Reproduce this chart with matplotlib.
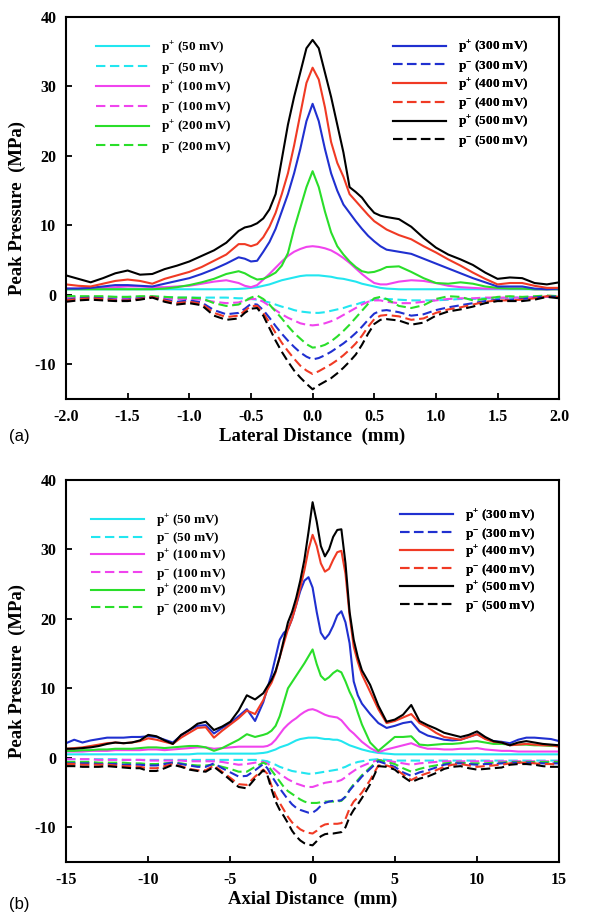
import matplotlib
matplotlib.use('Agg')
import matplotlib.pyplot as plt

plt.rcParams['font.family'] = 'Liberation Serif'
plt.rcParams['font.weight'] = 'bold'
plt.rcParams['axes.labelweight'] = 'bold'
plt.rcParams['axes.unicode_minus'] = False
plt.rcParams['mathtext.fontset'] = 'custom'
plt.rcParams['mathtext.rm'] = 'Liberation Serif:bold'
plt.rcParams['mathtext.it'] = 'Liberation Serif:bold'
plt.rcParams['mathtext.bf'] = 'Liberation Serif:bold'
plt.rcParams['mathtext.default'] = 'rm'

# -------- DATA --------
voltages = ['50', '100', '200', '300', '400', '500']
colors = ['#22e6f0', '#f044ee', '#2ade2a', '#2030d0', '#f03a24', '#000000']

# (a) lateral profile
lat_x = [-2.0, -1.9, -1.8, -1.7, -1.6, -1.5, -1.4, -1.3, -1.2, -1.1, -1.0, -0.9, -0.8, -0.7, -0.6,
         -0.55, -0.5, -0.45, -0.4, -0.35, -0.3, -0.25, -0.2, -0.15, -0.1, -0.05, 0.0,
         0.05, 0.1, 0.15, 0.2, 0.25, 0.3, 0.35, 0.4, 0.45, 0.5, 0.55,
         0.6, 0.7, 0.8, 0.9, 1.0, 1.1, 1.2, 1.3, 1.4, 1.5, 1.6, 1.7, 1.8, 1.9, 2.0]

lat_pos50 = [0.8, 0.8, 0.8, 0.8, 0.8, 0.8, 0.8, 0.8, 0.8, 0.8, 0.8, 0.8, 0.8, 0.8, 0.85,
             0.9, 1.0, 1.1, 1.3, 1.5, 1.8, 2.1, 2.3, 2.5, 2.7, 2.8, 2.8,
             2.8, 2.7, 2.6, 2.4, 2.3, 2.1, 1.9, 1.6, 1.4, 1.2, 1.0,
             0.9, 0.8, 0.8, 0.8, 0.8, 0.8, 0.8, 0.8, 0.8, 0.8, 0.8, 0.8, 0.8, 0.8, 0.8]
lat_pos100 = [0.9, 0.9, 1.0, 1.0, 1.1, 1.2, 1.2, 1.1, 1.1, 1.2, 1.3, 1.6, 1.9, 2.1, 1.7,
              1.3, 1.1, 1.4, 2.2, 3.0, 3.9, 4.8, 5.6, 6.2, 6.6, 6.9, 7.0,
              6.9, 6.7, 6.4, 5.9, 5.3, 4.6, 3.8, 3.0, 2.3, 1.7, 1.5,
              1.5, 1.9, 2.1, 2.0, 1.7, 1.3, 1.1, 1.0, 0.9, 0.9, 0.9, 0.9, 0.8, 0.8, 0.8]
lat_pos200 = [0.8, 0.8, 0.8, 0.8, 0.8, 0.8, 0.8, 0.8, 0.9, 1.1, 1.4, 1.8, 2.3, 3.0, 3.4,
              3.1, 2.6, 2.2, 2.3, 2.7, 3.2, 4.2, 6.0, 9.5, 12.5, 15.5, 17.8,
              15.5, 12.0, 9.0, 7.0, 5.8, 4.8, 4.0, 3.4, 3.2, 3.3, 3.6,
              4.0, 4.1, 3.3, 2.4, 1.7, 1.6, 1.8, 1.6, 1.2, 1.0, 0.9, 0.9, 0.8, 0.8, 0.8]
lat_pos300 = [0.9, 0.9, 1.0, 1.2, 1.4, 1.4, 1.3, 1.2, 1.6, 2.0, 2.4, 3.0, 3.7, 4.5, 5.4,
              5.2, 4.8, 4.9, 6.2, 7.6, 9.5, 12.0, 14.5, 17.5, 21.0, 25.0, 27.5,
              25.0, 21.0, 17.5, 15.0, 13.0, 11.8, 10.6, 9.5, 8.5, 7.7, 7.0,
              6.5, 6.2, 5.9, 5.2, 4.5, 3.8, 3.1, 2.4, 1.8, 1.2, 1.2, 1.2, 0.9, 0.8, 0.9]
lat_pos400 = [1.5, 1.3, 1.2, 1.6, 2.0, 2.2, 2.0, 1.6, 2.3, 2.8, 3.3, 4.0, 4.9, 5.8, 7.3,
              7.3, 7.0, 7.3, 8.3, 9.8, 11.8, 14.5, 17.5, 21.5, 26.0, 30.5, 32.7,
              31.0, 27.0, 22.0, 19.0, 17.0, 14.5, 13.5, 12.5, 11.5, 10.6, 10.0,
              9.4, 8.6, 8.0, 7.0, 6.1, 5.1, 4.2, 3.2, 2.3, 1.5, 1.7, 1.7, 1.3, 1.0, 1.0]
lat_pos500 = [2.8, 2.3, 1.8, 2.4, 3.1, 3.5, 2.9, 3.0, 3.7, 4.2, 4.8, 5.6, 6.4, 7.5, 9.2,
              9.7, 9.9, 10.3, 11.0, 12.3, 14.5, 19.5, 24.5, 28.5, 32.0, 35.5, 36.7,
              35.5, 32.0, 28.5, 24.5, 20.5, 15.5, 14.8, 14.0, 12.8, 11.8, 11.4,
              11.2, 10.9, 9.8, 8.2, 6.8, 5.8, 5.1, 4.3, 3.2, 2.3, 2.5, 2.4, 1.7, 1.5, 1.8]

lat_neg50 = [-0.3, -0.3, -0.3, -0.3, -0.3, -0.3, -0.3, -0.3, -0.3, -0.4, -0.4, -0.4, -0.4, -0.4, -0.5,
             -0.5, -0.6, -0.7, -0.9, -1.1, -1.4, -1.7, -1.9, -2.2, -2.4, -2.5, -2.6,
             -2.6, -2.5, -2.3, -2.1, -1.9, -1.6, -1.4, -1.1, -0.9, -0.7, -0.6,
             -0.6, -0.7, -0.8, -0.8, -0.8, -0.7, -0.6, -0.6, -0.5, -0.5, -0.4, -0.4, -0.4, -0.3, -0.3]
lat_neg100 = [-0.4, -0.4, -0.4, -0.4, -0.5, -0.5, -0.4, -0.4, -0.5, -0.6, -0.6, -0.7, -1.0, -1.2, -1.1,
              -0.8, -0.6, -0.6, -1.0, -1.6, -2.2, -2.8, -3.3, -3.7, -4.1, -4.3, -4.4,
              -4.3, -4.1, -3.8, -3.4, -2.9, -2.4, -1.9, -1.4, -1.0, -0.8, -0.8,
              -1.0, -1.2, -1.2, -1.0, -0.8, -0.6, -0.5, -0.5, -0.4, -0.4, -0.4, -0.4, -0.3, -0.3, -0.3]
lat_neg200 = [-0.2, -0.2, -0.2, -0.2, -0.3, -0.3, -0.2, -0.2, -0.3, -0.4, -0.4, -0.5, -1.2, -1.6, -1.4,
              -0.9, -0.4, -0.1, -0.6, -1.4, -2.4, -3.4, -4.5, -5.5, -6.3, -7.1, -7.6,
              -7.5, -7.2, -6.7, -6.0, -5.2, -4.3, -3.3, -2.3, -1.3, -0.5, -0.3,
              -0.6, -1.6, -1.9, -1.5, -0.6, -0.2, -0.3, -0.8, -0.6, -0.3, -0.2, -0.3, -0.2, -0.1, -0.2]
lat_neg300 = [-0.7, -0.5, -0.4, -0.5, -0.7, -0.7, -0.5, -0.3, -0.7, -1.0, -0.8, -1.1, -2.2, -2.8, -2.6,
              -2.0, -1.3, -1.4, -2.2, -3.3, -4.5, -5.6, -6.6, -7.5, -8.3, -8.9, -9.3,
              -9.1, -8.7, -8.2, -7.6, -7.0, -6.3, -5.5, -4.6, -3.6, -2.7, -2.3,
              -2.2, -2.5, -3.0, -2.8, -2.2, -1.8, -1.5, -1.2, -0.9, -0.7, -0.7, -0.6, -0.4, -0.2, -0.3]
lat_neg400 = [-0.8, -0.6, -0.5, -0.6, -0.8, -0.8, -0.6, -0.3, -0.8, -1.2, -1.0, -1.3, -2.6, -3.2, -3.0,
              -2.3, -1.6, -1.6, -2.6, -4.0, -5.5, -6.9, -8.1, -9.2, -10.2, -10.9, -11.4,
              -11.0, -10.5, -10.0, -9.4, -8.7, -7.9, -7.0, -5.9, -4.6, -3.5, -3.0,
              -2.9, -3.1, -3.6, -3.4, -2.6, -2.1, -1.8, -1.4, -1.0, -0.8, -0.8, -0.7, -0.5, -0.2, -0.3]
lat_neg500 = [-1.0, -0.8, -0.7, -0.8, -0.9, -0.9, -0.7, -0.4, -1.0, -1.4, -1.2, -1.5, -3.0, -3.6, -3.4,
              -2.6, -2.0, -1.9, -3.0, -4.8, -6.6, -8.2, -9.6, -10.9, -11.9, -12.8, -13.6,
              -13.0, -12.5, -12.0, -11.3, -10.5, -9.6, -8.6, -7.2, -5.6, -4.2, -3.6,
              -3.5, -3.7, -4.3, -4.0, -3.0, -2.4, -2.1, -1.7, -1.2, -0.9, -0.9, -0.9, -0.7, -0.3, -0.5]

# (b) axial profile
ax_x = [-15, -14.5, -14, -13.5, -13, -12.5, -12, -11.5, -11, -10.5, -10, -9.5, -9, -8.5, -8,
        -7.5, -7, -6.5, -6, -5.5, -5, -4.5, -4, -3.5, -3,
        -2.75, -2.5, -2.25, -2, -1.75, -1.5, -1.25, -1, -0.75, -0.5, -0.25, 0,
        0.25, 0.5, 0.75, 1, 1.25, 1.5, 1.75, 2, 2.25, 2.5, 2.75,
        3, 3.5, 4, 4.5, 5, 5.5, 6, 6.5, 7, 7.5, 8, 8.5, 9, 9.5, 10,
        10.5, 11, 11.5, 12, 12.5, 13, 13.5, 14, 14.5, 15]

ax_pos50 = [0.5, 0.5, 0.5, 0.5, 0.5, 0.5, 0.5, 0.5, 0.5, 0.5, 0.5, 0.5, 0.5, 0.5, 0.5,
            0.5, 0.6, 0.6, 0.6, 0.6, 0.6, 0.6, 0.6, 0.6, 0.7,
            0.8, 1.0, 1.2, 1.5, 1.7, 1.9, 2.2, 2.5, 2.7, 2.8, 2.9, 2.9,
            2.9, 2.8, 2.7, 2.7, 2.6, 2.6, 2.4, 2.1, 1.8, 1.6, 1.4,
            1.2, 0.9, 0.7, 0.6, 0.5, 0.5, 0.5, 0.5, 0.5, 0.5, 0.5, 0.5, 0.5, 0.5, 0.5,
            0.5, 0.5, 0.5, 0.5, 0.5, 0.5, 0.5, 0.5, 0.5, 0.5]
ax_pos100 = [0.9, 0.9, 0.9, 1.0, 1.0, 1.0, 1.1, 1.1, 1.1, 1.1, 1.2, 1.2, 1.1, 1.2, 1.3,
             1.4, 1.5, 1.5, 1.3, 1.4, 1.5, 1.6, 1.6, 1.6, 1.6,
             1.7, 2.0, 2.6, 3.4, 4.2, 4.8, 5.3, 5.7, 6.2, 6.6, 6.9, 7.0,
             6.8, 6.5, 6.2, 6.0, 5.9, 5.8, 5.4, 4.7, 4.0, 3.5, 2.9,
             2.3, 1.4, 0.8, 1.2, 1.5, 1.8, 2.1, 1.6, 1.3, 1.3, 1.2, 1.2, 1.3, 1.3, 1.4,
             1.2, 1.1, 1.0, 1.0, 0.9, 0.9, 0.9, 0.9, 0.9, 0.9]
ax_pos200 = [1.0, 1.0, 1.1, 1.1, 1.2, 1.2, 1.3, 1.3, 1.3, 1.4, 1.5, 1.5, 1.4, 1.5, 1.6,
             1.7, 1.7, 1.5, 1.0, 1.4, 2.0, 2.6, 3.4, 3.0, 3.3,
             3.5, 3.9, 4.6, 6.0, 8.0, 10.0, 10.9, 11.8, 12.7, 13.6, 14.6, 15.6,
             13.5, 11.8, 11.2, 11.6, 12.2, 12.6, 12.3, 11.0, 9.5, 8.3, 6.5,
             4.8, 2.2, 1.0, 2.0, 3.0, 3.0, 3.1, 1.9, 1.8, 1.9, 2.0, 2.0, 2.1, 2.3, 2.4,
             2.2, 2.0, 2.0, 1.9, 1.9, 1.9, 1.8, 1.8, 1.7, 1.7]
ax_pos300 = [2.1, 2.6, 2.2, 2.5, 2.7, 2.9, 2.9, 2.9, 3.0, 3.0, 3.1, 3.0, 2.6, 2.2, 3.2,
             4.0, 4.6, 4.7, 3.5, 4.3, 5.0, 6.0, 7.0, 5.3, 8.0,
             10.0, 12.0, 14.5, 17.0, 18.0, 18.5, 20.0, 22.0, 24.0, 25.5, 26.0, 24.5,
             21.0, 18.0, 17.1, 17.8, 19.0, 20.5, 21.1, 19.5, 16.5, 11.0, 9.0,
             7.8, 6.3, 5.0, 4.3, 4.6, 5.0, 5.2, 3.8, 3.2, 2.9, 2.6, 2.5, 2.6, 3.0, 3.4,
             2.8, 2.4, 2.3, 2.1, 2.6, 2.9, 2.9, 2.8, 2.7, 2.4]
ax_pos400 = [1.3, 1.4, 1.5, 1.7, 1.9, 2.1, 2.2, 2.1, 2.2, 2.4, 2.8, 2.6, 2.3, 2.0, 2.9,
             3.6, 4.3, 4.4, 2.9, 3.9, 4.8, 5.7, 6.8, 6.3, 8.3,
             9.8, 10.8, 12.3, 14.5, 16.5, 18.5, 20.0, 22.0, 24.5, 27.0, 30.0, 32.1,
             30.5, 28.0, 26.8, 27.2, 28.5, 29.6, 29.8, 26.5, 20.5, 16.0, 13.8,
             12.0, 9.5, 7.0, 5.0, 5.3, 5.8, 6.3, 5.0, 4.4, 3.6, 3.0, 2.8, 2.6, 3.0, 3.4,
             2.7, 2.3, 2.2, 1.8, 1.9, 2.0, 1.9, 1.8, 1.8, 1.6]
ax_pos500 = [1.3, 1.3, 1.4, 1.5, 1.7, 2.0, 2.2, 2.1, 2.2, 2.5, 3.3, 3.1, 2.5, 2.0, 3.3,
             4.0, 4.9, 5.2, 4.0, 4.5, 5.2, 6.8, 9.0, 8.4, 9.3,
             10.3, 11.2, 12.5, 14.5, 17.0, 19.5, 21.0, 23.0, 25.5, 28.5, 32.5, 36.8,
             34.0, 30.5, 29.0, 30.0, 31.8, 32.8, 32.9, 28.0, 21.0, 17.0, 14.5,
             12.6, 10.5, 7.5, 5.2, 5.5, 6.2, 7.6, 5.3, 4.7, 4.2, 3.6, 3.3, 3.0, 3.3, 3.8,
             3.0, 2.4, 2.2, 1.8, 2.2, 2.4, 2.2, 2.0, 1.9, 1.8]

ax_neg50 = [-0.2, -0.2, -0.2, -0.2, -0.2, -0.2, -0.2, -0.3, -0.3, -0.3, -0.3, -0.3, -0.3, -0.3, -0.3,
            -0.3, -0.3, -0.3, -0.3, -0.3, -0.3, -0.3, -0.3, -0.3, -0.4,
            -0.5, -0.8, -1.0, -1.3, -1.5, -1.7, -1.9, -2.0, -2.1, -2.2, -2.3, -2.3,
            -2.2, -2.1, -2.0, -1.9, -1.8, -1.7, -1.5, -1.3, -1.0, -0.8, -0.6,
            -0.5, -0.3, -0.2, -0.3, -0.4, -0.4, -0.4, -0.4, -0.4, -0.4, -0.4, -0.4, -0.4, -0.4, -0.4,
            -0.4, -0.4, -0.4, -0.4, -0.4, -0.4, -0.4, -0.4, -0.4, -0.4]
ax_neg100 = [-0.2, -0.2, -0.2, -0.2, -0.3, -0.3, -0.3, -0.3, -0.3, -0.3, -0.4, -0.4, -0.4, -0.4, -0.4,
             -0.5, -0.5, -0.5, -0.5, -0.6, -0.8, -1.0, -0.9, -0.7, -0.6,
             -0.8, -1.3, -1.8, -2.3, -2.7, -3.1, -3.4, -3.7, -3.9, -4.1, -4.2, -4.2,
             -4.0, -3.8, -3.6, -3.5, -3.4, -3.4, -3.2, -2.8, -2.3, -1.9, -1.5,
             -1.2, -0.7, -0.3, -0.4, -0.6, -0.8, -1.0, -0.8, -0.7, -0.6, -0.5, -0.5, -0.5, -0.5, -0.5,
             -0.5, -0.5, -0.5, -0.5, -0.5, -0.5, -0.5, -0.5, -0.5, -0.5]
ax_neg200 = [-0.6, -0.6, -0.6, -0.6, -0.7, -0.7, -0.7, -0.7, -0.8, -0.8, -0.9, -0.9, -0.8, -0.7, -0.8,
             -1.0, -1.1, -1.1, -1.0, -1.3, -1.6, -2.0, -2.0, -1.3, -0.7,
             -1.0, -1.8, -2.6, -3.4, -4.2, -4.8, -5.2, -5.6, -6.0, -6.3, -6.5, -6.5,
             -6.5, -6.4, -6.3, -6.3, -6.3, -6.3, -6.2, -5.6, -4.6, -3.8, -3.2,
             -2.5, -1.4, -0.3, -0.6, -0.9, -1.5, -2.0, -1.6, -1.3, -1.1, -0.8, -0.7, -0.7, -0.8, -0.8,
             -0.8, -0.7, -0.7, -0.6, -0.6, -0.6, -0.6, -0.6, -0.6, -0.6]
ax_neg300 = [-0.8, -0.8, -0.8, -0.8, -0.9, -0.9, -0.9, -1.0, -1.0, -1.0, -1.1, -1.1, -0.9, -0.7, -0.9,
             -1.1, -1.3, -1.3, -0.8, -1.5, -2.1, -2.7, -2.6, -1.8, -0.9,
             -1.5, -2.6, -3.5, -4.4, -5.2, -6.0, -6.7, -7.2, -7.5, -7.7, -7.9, -7.9,
             -7.5, -6.9, -6.5, -6.3, -6.2, -6.2, -6.1, -5.6, -4.7, -4.0, -3.4,
             -2.7, -1.6, -0.5, -0.9, -1.3, -2.1, -2.6, -2.1, -1.8, -1.4, -1.0, -0.8, -0.8, -0.9, -1.0,
             -0.9, -0.9, -0.8, -0.7, -0.7, -0.7, -0.7, -0.8, -0.8, -0.8]
ax_neg400 = [-0.9, -0.9, -1.0, -1.0, -1.0, -1.0, -1.1, -1.2, -1.2, -1.3, -1.5, -1.5, -1.2, -0.9, -1.2,
             -1.6, -1.8, -1.8, -1.1, -2.0, -2.9, -3.8, -3.9, -2.7, -1.7,
             -2.3, -4.0, -5.4, -6.5, -7.5, -8.5, -9.3, -9.8, -10.3, -10.6, -10.8, -10.9,
             -10.5, -9.9, -9.6, -9.5, -9.5, -9.5, -9.4, -8.8, -7.3, -6.3, -5.7,
             -5.0, -3.2, -1.1, -1.1, -1.5, -2.4, -3.2, -2.6, -2.2, -1.8, -1.3, -1.0, -0.9, -1.1, -1.3,
             -1.2, -1.1, -1.0, -0.8, -0.7, -0.7, -0.8, -0.9, -0.9, -1.0]
ax_neg500 = [-1.2, -1.2, -1.3, -1.3, -1.3, -1.2, -1.3, -1.4, -1.5, -1.5, -1.9, -1.9, -1.5, -1.0, -1.3,
             -1.7, -1.9, -2.0, -1.3, -2.2, -3.2, -4.2, -4.4, -3.0, -1.8,
             -2.5, -4.5, -6.3, -7.5, -8.4, -9.4, -10.5, -11.3, -11.9, -12.3, -12.5, -12.6,
             -12.0, -11.3, -11.0, -10.9, -10.9, -10.8, -10.7, -10.0, -8.5, -7.5, -6.7,
             -5.8, -3.8, -1.2, -1.3, -1.7, -2.7, -3.5, -3.0, -2.7, -2.2, -1.6, -1.3, -1.2, -1.5, -1.7,
             -1.6, -1.5, -1.4, -1.0, -0.9, -0.9, -1.0, -1.2, -1.3, -1.3]

lat_pos = [lat_pos50, lat_pos100, lat_pos200, lat_pos300, lat_pos400, lat_pos500]
lat_neg = [lat_neg50, lat_neg100, lat_neg200, lat_neg300, lat_neg400, lat_neg500]
ax_pos = [ax_pos50, ax_pos100, ax_pos200, ax_pos300, ax_pos400, ax_pos500]
ax_neg = [ax_neg50, ax_neg100, ax_neg200, ax_neg300, ax_neg400, ax_neg500]

lat_ticks = [-2.0, -1.5, -1.0, -0.5, 0.0, 0.5, 1.0, 1.5, 2.0]
ax_ticks = [-15, -10, -5, 0, 5, 10, 15]
y_ticks = [-10, 0, 10, 20, 30, 40]


# -------- PLOTTING --------
def draw_panel(ax, x, pos, neg, leg_left, leg_right, gaps):
    handles = []
    labels = []
    for v, c, p, n in zip(voltages, colors, pos, neg):
        h1, = ax.plot(x, p, color=c, lw=1.5)
        h2, = ax.plot(x, n, color=c, lw=1.5, dashes=(4.5, 2.2))
        handles += [h1, h2]
        labels += [r'p$^{+}$ (%s mV)' % v, r'p$^{-}$ (%s mV)' % v]
    for part, anchor, gap in ((slice(0, 6), leg_left, gaps[0]), (slice(6, 12), leg_right, gaps[1])):
        leg = ax.legend(handles[part], labels[part], loc='upper left', bbox_to_anchor=anchor,
                        frameon=False, fontsize=9.5, handlelength=4.0, handletextpad=0.9,
                        labelspacing=gap, borderpad=0, borderaxespad=0)
        ax.add_artist(leg)
    ax.set_ylim(-15, 40)
    ax.set_yticks(y_ticks)
    ax.tick_params(direction='in', length=4, width=1.3, labelsize=11.5, pad=7)
    for s in ax.spines.values():
        s.set_linewidth(1.5)
    ax.set_ylabel('Peak Pressure  (MPa)', fontsize=13.5, labelpad=6)


fig = plt.figure(figsize=(6, 9.23), dpi=100)
ax1 = fig.add_axes([0.11, 0.5677, 0.822, 0.4139])
ax2 = fig.add_axes([0.11, 0.0661, 0.822, 0.4139])

draw_panel(ax1, lat_x, lat_pos, lat_neg, (0.061, 0.94), (0.663, 0.942), (0.28, 0.2))
ax1.set_xlim(-2, 2)
ax1.set_xticks(lat_ticks)
ax1.set_xticklabels(['%.1f' % t for t in lat_ticks])
ax1.set_xlabel('Lateral Distance  (mm)', fontsize=13.5, labelpad=2)

draw_panel(ax2, ax_x, ax_pos, ax_neg, (0.051, 0.914), (0.677, 0.927), (0.11, 0.14))
ax2.set_xlim(-15, 15)
ax2.set_xticks(ax_ticks)
ax2.set_xlabel('Axial Distance  (mm)', fontsize=13.5, labelpad=2)

fig.text(0.015, 1 - 436 / 923, '(a)', family='Liberation Sans', weight='normal', fontsize=12, va='center')
fig.text(0.015, 1 - 905 / 923, '(b)', family='Liberation Sans', weight='normal', fontsize=12, va='center')

fig.savefig('out.png', dpi=100)
